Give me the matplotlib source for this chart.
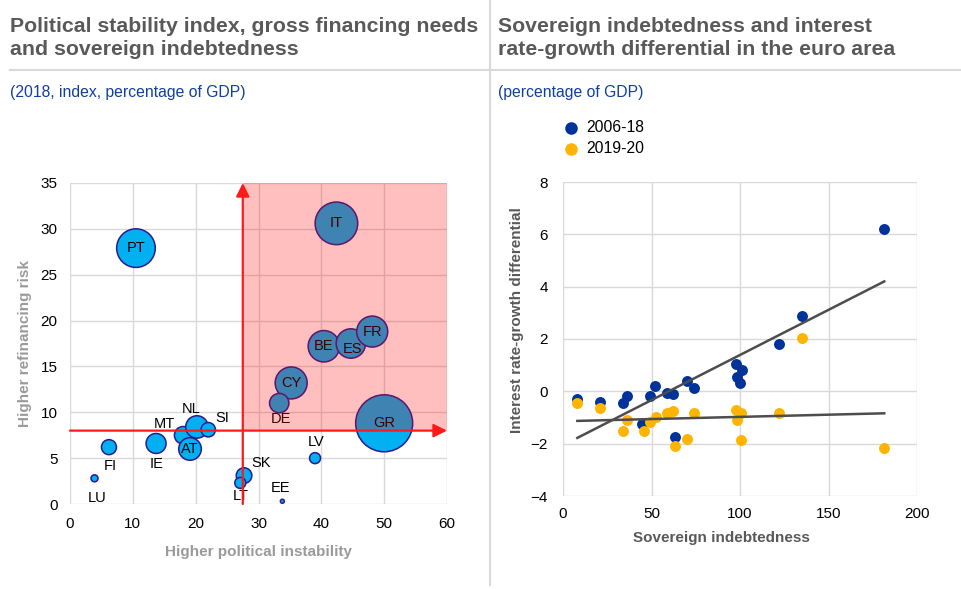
import numpy as np
import matplotlib
matplotlib.use("Agg")
import matplotlib.pyplot as plt
from matplotlib.patches import Rectangle
from matplotlib.lines import Line2D

plt.rcParams['font.family'] = ['Liberation Sans', 'DejaVu Sans']

# left chart: political instability vs gross financing needs, bubble = third variable
countries = ['PT', 'IT', 'BE', 'ES', 'FR', 'CY', 'DE', 'GR', 'LV', 'SK',
             'LT', 'EE', 'LU', 'FI', 'IE', 'MT', 'AT', 'NL', 'SI']
instability = [10.5, 42.4, 40.4, 44.7, 48.1, 35.2, 33.3, 50.0, 39.0, 27.7,
               27.1, 33.8, 3.9, 6.2, 13.7, 18.0, 19.1, 20.2, 22.0]
financing = [27.9, 30.6, 17.2, 17.5, 18.8, 13.2, 11.0, 8.8, 5.0, 3.1,
             2.3, 0.3, 2.8, 6.2, 6.6, 7.5, 6.0, 8.4, 8.1]
bubble_value = [19.3, 21.3, 15.7, 14.7, 15.5, 16.0, 9.7, 28.5, 5.5, 7.8,
                5.5, 2.0, 3.5, 7.5, 10.0, 8.7, 11.3, 11.2, 7.2]
# label offsets in points (style only)
label_offsets = [(0, 0), (0, 0), (0, 0), (1.5, -4.3), (0, 0), (0, 0), (1.4, -11.5),
                 (0, 0), (0.7, 11.5), (12, 9.4), (0, -9.4), (-1.4, 9.4),
                 (2.2, -14.4), (0.7, -13.7), (0, -15), (-13.7, 8), (0, 0),
                 (-4.3, 13), (10, 8.6)]
risk_x = 27.5
risk_y = 8

# right chart: sovereign debt vs interest rate-growth differential
debt_x = [8.1, 20.9, 33.7, 36.3, 44.4, 49.2, 52.0, 58.6, 62.0, 63.3,
          70.2, 74.0, 97.7, 101.0, 98.1, 100.0, 122.2, 134.8, 181.5]
rg_2006_18 = [-0.31, -0.41, -0.45, -0.19, -1.23, -0.19, 0.20, -0.05, -0.09, -1.73,
              0.38, 0.13, 1.06, 0.83, 0.55, 0.33, 1.79, 2.87, 6.22]
debt_x_2 = [8.1, 20.9, 34.1, 36.3, 45.8, 49.2, 52.5, 58.6, 62.0, 63.3,
            70.2, 74.0, 97.7, 100.4, 98.1, 100.6, 122.2, 134.8, 181.5]
rg_2019_20 = [-0.45, -0.64, -1.53, -1.08, -1.51, -1.17, -0.98, -0.83, -0.76, -2.10,
              -1.83, -0.83, -0.73, -0.83, -1.08, -1.85, -0.83, 2.05, -2.15]
trend_x = [8.1, 181.5]
trend_2006_18 = [-1.78, 4.20]
trend_2019_20 = [-1.13, -0.84]

title_grey = '#595959'
sub_blue = '#103FA0'
grid_grey = '#D9D9D9'
FS = 11

fig = plt.figure(figsize=(9.61, 5.89), dpi=100)

# ---- left chart ----
ax1 = fig.add_axes([70 / 961, 1 - 504 / 589, 377 / 961, 321 / 589])
ax1.set_xlim(0, 60)
ax1.set_ylim(0, 35)
ax1.set_xticks(range(0, 61, 10))
ax1.set_yticks(range(0, 36, 5))
ax1.grid(True, color=grid_grey, lw=1, zorder=0)
ax1.set_axisbelow(True)
for s in ax1.spines.values():
    s.set_visible(False)
ax1.tick_params(length=0, labelsize=FS)
ax1.tick_params(axis='x', pad=9)
ax1.tick_params(axis='y', pad=9)

# bubble_value read as radius in pixels -> marker area in points^2
sizes = [(2 * v * 0.72) ** 2 for v in bubble_value]
ax1.scatter(instability, financing, s=sizes, color='#00B0F0',
            edgecolor='#2B1B8F', lw=1.1, zorder=3, clip_on=False)
for c, x, y, off in zip(countries, instability, financing, label_offsets):
    ax1.annotate(c, (x, y), xytext=off, textcoords='offset points',
                 ha='center', va='center', fontsize=10.5, color='black', zorder=4)

ax1.add_patch(Rectangle((risk_x, risk_y), 60 - risk_x, 35 - risk_y,
                        facecolor='red', alpha=0.25, edgecolor='none', zorder=5))
arrow = dict(arrowstyle='-|>', color='#FF1A1A', lw=1.6, mutation_scale=20,
             shrinkA=0, shrinkB=0)
ax1.annotate('', xy=(risk_x, 35), xytext=(risk_x, 0), arrowprops=arrow,
             zorder=6, annotation_clip=False)
ax1.annotate('', xy=(60, risk_y), xytext=(0, risk_y), arrowprops=arrow,
             zorder=6, annotation_clip=False)

ax1.set_xlabel('Higher political instability', fontsize=FS, fontweight='bold',
               color='#9A9A9A')
ax1.xaxis.set_label_coords(0.5, -0.128)
ax1.set_ylabel('Higher refinancing risk', fontsize=FS, fontweight='bold',
               color='#9A9A9A')
ax1.yaxis.set_label_coords(-0.10, 0.5)

# ---- right chart ----
ax2 = fig.add_axes([563 / 961, 1 - 496 / 589, 354 / 961, 314 / 589])
ax2.set_xlim(0, 200)
ax2.set_ylim(-4, 8)
ax2.set_xticks(range(0, 201, 50))
ax2.set_yticks(range(-4, 9, 2))
ax2.grid(True, color=grid_grey, lw=1, zorder=0)
ax2.set_axisbelow(True)
for s in ax2.spines.values():
    s.set_visible(False)
ax2.tick_params(length=0, labelsize=FS)
ax2.tick_params(axis='x', pad=8)
ax2.tick_params(axis='y', pad=11)

p1 = ax2.scatter(debt_x, rg_2006_18, s=62, color='#003399', lw=0, zorder=3,
                 label='2006-18')
p2 = ax2.scatter(debt_x_2, rg_2019_20, s=62, color='#FFB400', lw=0, zorder=4,
                 label='2019-20')
ax2.plot(trend_x, trend_2006_18, color='#4D4D4D', lw=1.8, zorder=5)
ax2.plot(trend_x, trend_2019_20, color='#4D4D4D', lw=1.8, zorder=5)

ax2.set_xlabel('Sovereign indebtedness', fontsize=FS, fontweight='bold',
               color=title_grey)
ax2.xaxis.set_label_coords((721 - 563) / 354, -0.112)
ax2.set_ylabel('Interest rate-growth differential', fontsize=FS, fontweight='bold',
               color=title_grey)
ax2.yaxis.set_label_coords(-0.11, 0.56)

fig.legend(handles=[p1, p2], loc='upper left',
           bbox_to_anchor=(551 / 961, 1 - 112 / 589), frameon=False,
           fontsize=11.3, handletextpad=0.25, labelspacing=0.38, borderpad=0,
           handlelength=1.5, markerscale=1.15)

# ---- titles and frame lines ----
title_kw = dict(fontsize=15.3, fontweight='bold', color=title_grey, va='baseline')
fig.text(10 / 961, 1 - 32 / 589, 'Political stability index, gross financing needs', **title_kw)
fig.text(10 / 961, 1 - 55 / 589, 'and sovereign indebtedness', **title_kw)
fig.text(498 / 961, 1 - 32 / 589, 'Sovereign indebtedness and interest', **title_kw)
fig.text(498 / 961, 1 - 55 / 589, 'rate-growth differential in the euro area', **title_kw)
fig.text(10 / 961, 1 - 92 / 589, '(2018, index, percentage of GDP)',
         fontsize=11.3, color=sub_blue, va='center')
fig.text(498 / 961, 1 - 92 / 589, '(percentage of GDP)',
         fontsize=11.3, color=sub_blue, va='center')

fig.add_artist(Line2D([10 / 961, 1], [1 - 70 / 589, 1 - 70 / 589],
                      transform=fig.transFigure, color=grid_grey, lw=1.5))
fig.add_artist(Line2D([490 / 961, 490 / 961], [1 - 585 / 589, 1],
                      transform=fig.transFigure, color=grid_grey, lw=1.5))

fig.savefig('out.png', dpi=100)
